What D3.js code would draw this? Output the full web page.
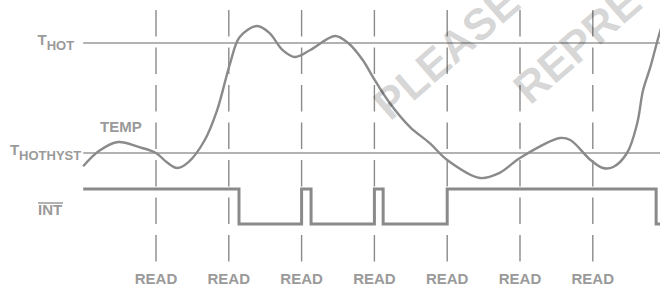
<!DOCTYPE html>
<html>
<head>
<meta charset="utf-8">
<script src="https://cdn.jsdelivr.net/npm/d3@7"></script>
<style>
  body { margin: 0; background: #fff; }
  svg { display: block; font-family: "Liberation Sans", Arial, sans-serif; font-weight: bold; }
</style>
</head>
<body>
<svg id="chart" width="660" height="286"></svg>
<script>
// time in READ periods, temperature normalised so T_HOTHYST = 0 and T_HOT = 1
let readTimes = [1, 2, 3, 4, 5, 6, 7];
let readLabels = ["READ", "READ", "READ", "READ", "READ", "READ", "READ"];

let thresholdNames = ["HOT", "HOTHYST"];
let thresholdValues = [1, 0];

let tempTimes = [0, 0.22, 0.48, 0.76, 1.0, 1.15, 1.29, 1.45, 1.67, 1.84, 2.02, 2.15, 2.39, 2.56, 2.74, 2.91, 3.12, 3.46, 3.64, 3.84, 3.98, 4.21, 4.49, 4.76, 5.0, 5.45, 5.72, 6.0, 6.55, 6.69, 6.97, 7.14, 7.28, 7.47, 7.61, 7.69, 7.79, 7.9, 7.95];
let tempValues = [-0.12, 0.02, 0.10, 0.055, 0, -0.085, -0.136, -0.08, 0.118, 0.39, 0.82, 1.055, 1.155, 1.09, 0.936, 0.873, 0.936, 1.064, 1.0, 0.845, 0.69, 0.455, 0.236, 0.09, -0.064, -0.227, -0.18, -0.045, 0.136, 0.118, -0.064, -0.136, -0.127, 0, 0.27, 0.57, 0.78, 1.05, 1.16];

// INT output: level after each edge time (1 = high, 0 = low)
let intTimes = [0, 2.14, 3.0, 3.13, 4.0, 4.12, 5.0, 7.87, 7.95];
let intLevels = [1, 0, 1, 0, 1, 0, 1, 0, 0];

let svg = d3.select("#chart");
let width = 660;

let x = d3.scaleLinear().domain([0, 8]).range([83.2, 665.6]);
let yTemp = d3.scaleLinear().domain([0, 1]).range([153, 43]);
let yInt = d3.scaleLinear().domain([0, 1]).range([224, 189]);

let lineColor = "#8a8a8a";
let textColor = "#9a9a9a";

// READ markers (dashed verticals)
svg.selectAll(".read")
    .data(readTimes)
    .enter().append("line")
    .attr("x1", d => x(d)).attr("x2", d => x(d))
    .attr("y1", 10).attr("y2", 262)
    .attr("stroke", lineColor)
    .attr("stroke-width", 1.4)
    .attr("stroke-dasharray", "26.5,11");

svg.selectAll(".readLabel")
    .data(readTimes)
    .enter().append("text")
    .attr("x", d => x(d))
    .attr("y", 284)
    .attr("text-anchor", "middle")
    .attr("font-size", "15px")
    .attr("fill", textColor)
    .text((d, i) => readLabels[i]);

// threshold lines
svg.selectAll(".thr")
    .data(thresholdValues)
    .enter().append("line")
    .attr("x1", x(0)).attr("x2", width)
    .attr("y1", d => yTemp(d)).attr("y2", d => yTemp(d))
    .attr("stroke", "#999")
    .attr("stroke-width", 1.5);

// threshold labels: T with subscript
let labelGap = [9, 2];
thresholdValues.forEach((v, i) => {
    let t = svg.append("text")
        .attr("x", x(0) - labelGap[i])
        .attr("y", yTemp(v) + 2)
        .attr("text-anchor", "end")
        .attr("fill", textColor);
    t.append("tspan").attr("font-size", "15px").text("T");
    t.append("tspan").attr("font-size", "13px").attr("dy", 5).text(thresholdNames[i]);
});

// temperature curve
let tempLine = d3.line()
    .x(d => x(d[0]))
    .y(d => yTemp(d[1]))
    .curve(d3.curveCatmullRom.alpha(0.5));

svg.append("path")
    .datum(tempTimes.map((t, i) => [t, tempValues[i]]))
    .attr("d", tempLine)
    .attr("fill", "none")
    .attr("stroke", lineColor)
    .attr("stroke-width", 2.4);

svg.append("text")
    .attr("x", 100)
    .attr("y", 132)
    .attr("font-size", "15px")
    .attr("fill", textColor)
    .text("TEMP");

// INT waveform
let intLine = d3.line()
    .x(d => x(d[0]))
    .y(d => yInt(d[1]))
    .curve(d3.curveStepAfter);

svg.append("path")
    .datum(intTimes.map((t, i) => [t, intLevels[i]]))
    .attr("d", intLine)
    .attr("fill", "none")
    .attr("stroke", lineColor)
    .attr("stroke-width", 3);

svg.append("text")
    .attr("x", 38)
    .attr("y", 215)
    .attr("font-size", "15px")
    .attr("fill", textColor)
    .text("INT");
svg.append("line")
    .attr("x1", 38).attr("x2", 63)
    .attr("y1", 203).attr("y2", 203)
    .attr("stroke", textColor)
    .attr("stroke-width", 1.5);

// watermark
svg.append("text")
    .attr("transform", "translate(390,122) rotate(-41)")
    .attr("font-size", "44px")
    .attr("fill", "#000")
    .attr("fill-opacity", 0.17)
    .text("PLEASE");
svg.append("text")
    .attr("transform", "translate(530,106) rotate(-41)")
    .attr("font-size", "44px")
    .attr("fill", "#000")
    .attr("fill-opacity", 0.17)
    .text("REPRE");
</script>
</body>
</html>
